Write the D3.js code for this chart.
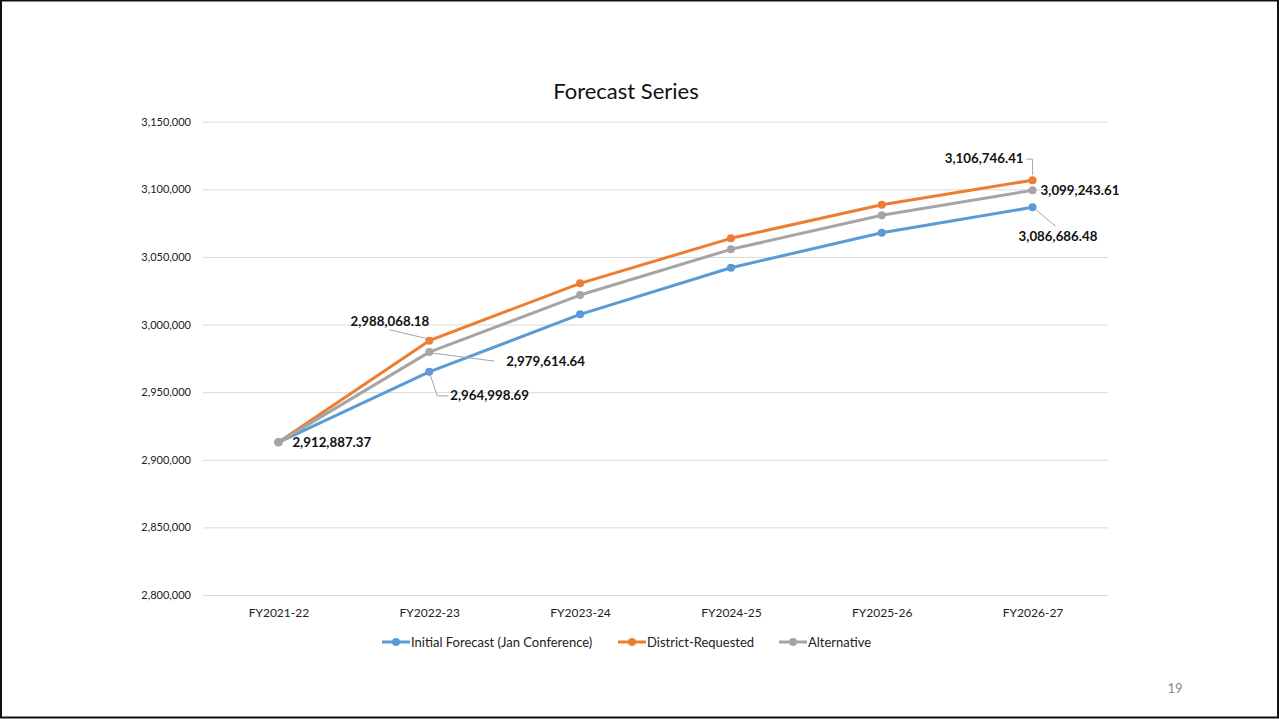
<!DOCTYPE html>
<html>
<head>
<meta charset="utf-8">
<script src="https://cdn.jsdelivr.net/npm/d3@7"></script>
<style>
  html, body { margin: 0; padding: 0; background: #fff; }
  svg { display: block; font-family: Lato, "Open Sans", sans-serif; }
</style>
</head>
<body>
<svg id="chart" width="1279" height="719"></svg>
<script>
/* Data */
var categories = ["FY2021-22", "FY2022-23", "FY2023-24", "FY2024-25", "FY2025-26", "FY2026-27"];
var initialForecast = [2912887.37, 2964998.69, 3007544, 3042012, 3067899, 3086686.48];
var districtRequested = [2912887.37, 2988068.18, 3030473, 3063757, 3088609, 3106746.41];
var alternative = [2912887.37, 2979614.64, 3021820, 3055621, 3080769, 3099243.61];
var yTicks = [2800000, 2850000, 2900000, 2950000, 3000000, 3050000, 3100000, 3150000];
var seriesNames = ["Initial Forecast (Jan Conference)", "District-Requested", "Alternative"];
var seriesColors = ["#5B9BD5", "#ED7D31", "#A5A5A5"];

/* Which points carry a data label, per series (index into categories) */
var labelled = [[0, 1, 5], [1, 5], [1, 5]];

/* Label placement: dx, dy from the point, anchor, leader line path relative to point */
var labelPlacement = {
  "0-0": { dx: 14, dy: 5, anchor: "start", leader: null },
  "0-1": { dx: 21, dy: 28, anchor: "start", leader: [[1, 3], [8, 24], [19, 24]] },
  "0-5": { dx: -14, dy: 34, anchor: "start", leader: [[4, 3], [23, 19]] },
  "1-1": { dx: 0, dy: -15, anchor: "end", leader: [[-2, -2], [-40, -11]] },
  "1-5": { dx: -9, dy: -17, anchor: "end", leader: [[0, -5], [0, -21], [-6, -21]] },
  "2-1": { dx: 77, dy: 14, anchor: "start", leader: [[3, 1], [65, 9]] },
  "2-5": { dx: 8, dy: 5, anchor: "start", leader: null }
};

var svg = d3.select("svg#chart");
var width = 1279, height = 719;

/* Slide frame */
svg.append("rect")
  .attr("x", 1).attr("y", 0.5)
  .attr("width", width - 2).attr("height", height - 2)
  .attr("fill", "none")
  .attr("stroke", "#111")
  .attr("stroke-width", 2);

var plot = { left: 203, right: 1108, top: 121.7, bottom: 595 };

var x = d3.scalePoint()
  .domain(categories)
  .range([plot.left, plot.right])
  .padding(0.5);

var y = d3.scaleLinear()
  .domain([2800000, 3150000])
  .range([plot.bottom, plot.top]);

/* Title */
svg.append("text")
  .attr("x", 626)
  .attr("y", 99)
  .attr("text-anchor", "middle")
  .style("font-size", "22px")
  .style("fill", "#111")
  .text("Forecast Series");

/* Gridlines + y labels */
var yAxis = d3.axisLeft(y)
  .tickValues(yTicks)
  .tickSize(-(plot.right - plot.left))
  .tickPadding(12)
  .tickFormat(d3.format(","));

var yG = svg.append("g")
  .attr("transform", `translate(${plot.left},0)`)
  .call(yAxis);
yG.select(".domain").remove();
yG.selectAll(".tick line").attr("stroke", "#D9D9D9").attr("stroke-width", 1);
yG.selectAll(".tick text")
  .style("font-size", "11px")
  .style("fill", "#222")
  .style("font-family", "Lato, 'Open Sans', sans-serif");

/* x labels */
var xAxis = d3.axisBottom(x).tickSize(0).tickPadding(13);
var xG = svg.append("g")
  .attr("transform", `translate(0,${plot.bottom})`)
  .call(xAxis);
xG.select(".domain").remove();
xG.selectAll(".tick text")
  .style("font-size", "12px")
  .style("fill", "#222")
  .style("font-family", "Lato, 'Open Sans', sans-serif");

/* Lines */
var allSeries = [initialForecast, districtRequested, alternative];
var line = d3.line()
  .x((d, i) => x(categories[i]))
  .y(d => y(d));

allSeries.forEach(function (values, s) {
  var g = svg.append("g").attr("class", "series");
  g.append("path")
    .datum(values)
    .attr("d", line)
    .attr("fill", "none")
    .attr("stroke", seriesColors[s])
    .attr("stroke-width", 3)
    .attr("stroke-linejoin", "round");
  g.selectAll("circle")
    .data(values)
    .enter()
    .append("circle")
    .attr("cx", (d, i) => x(categories[i]))
    .attr("cy", d => y(d))
    .attr("r", 4)
    .attr("fill", seriesColors[s]);
});

/* Data labels */
var fmt = d3.format(",.2f");
var labelG = svg.append("g").attr("class", "labels");
labelled.forEach(function (idxs, s) {
  idxs.forEach(function (i) {
    var px = x(categories[i]), py = y(allSeries[s][i]);
    var p = labelPlacement[s + "-" + i];
    if (p.leader) {
      labelG.append("path")
        .attr("d", d3.line()(p.leader.map(q => [px + q[0], py + q[1]])))
        .attr("fill", "none")
        .attr("stroke", "#A6A6A6")
        .attr("stroke-width", 1);
    }
    labelG.append("text")
      .attr("x", px + p.dx)
      .attr("y", py + p.dy)
      .attr("text-anchor", p.anchor)
      .style("font-size", "13.3px")
      .style("font-weight", "bold")
      .style("fill", "#111")
      .text(fmt(allSeries[s][i]));
  });
});

/* Legend */
var legendX = [382, 618, 779];
var legend = svg.append("g").attr("class", "legend");
seriesNames.forEach(function (name, s) {
  var lg = legend.append("g").attr("transform", `translate(${legendX[s]},642)`);
  lg.append("line")
    .attr("x1", 0).attr("x2", 28)
    .attr("stroke", seriesColors[s])
    .attr("stroke-width", 3);
  lg.append("circle").attr("cx", 14).attr("r", 4).attr("fill", seriesColors[s]);
  lg.append("text")
    .attr("x", 29).attr("y", 4.5)
    .style("font-size", "13px")
    .style("fill", "#222")
    .text(name);
});

/* Page number */
svg.append("text")
  .attr("x", 1175).attr("y", 693)
  .attr("text-anchor", "middle")
  .style("font-size", "13px")
  .style("fill", "#888")
  .text("19");
</script>
</body>
</html>
